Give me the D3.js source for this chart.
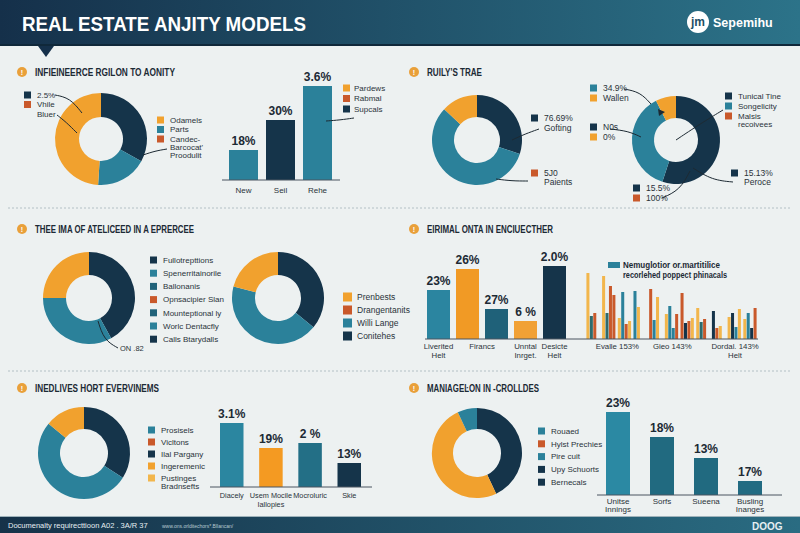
<!DOCTYPE html>
<html>
<head>
<meta charset="utf-8">
<script src="https://cdn.jsdelivr.net/npm/d3@7"></script>
<style>
body { margin: 0; background: #edf1f1; }
svg { display: block; font-family: "Liberation Sans", Arial, sans-serif; }
</style>
</head>
<body>
<div id="chart"></div>
<script>
var navy = "#15344a", teal = "#2b819a", dteal = "#21637a", orange = "#f1a12e",
    rust = "#c9592b", gold = "#f2b64c", ink = "#1c2a35";

// ---- data ----
var headerTitle = "REAL ESTATE ANJITY MODELS";
var logoText = "Sepemihu";
var panelTitles = ["INFIEINEERCE RGILON TO AONITY", "RUILY'S TRAE",
    "THEE IMA OF ATELICEED IN A EPRERCEE", "EIRIMAL ONTA IN ENCIUECTHER",
    "INEDLIVES HORT EVERVINEMS", "MANIAGEĿON IN -CROLLDES"];

// panel 1
var p1Donut = [33, 18, 49];
var p1DonutColors = [navy, teal, orange];
var p1LegendLeft = ["2.5%", "Vhile\nBluer"];
var p1LegendLeftColors = [navy, rust];
var p1LegendRight = ["Odamels", "Parts", "Candec-\nBarcocat'\nProodulit"];
var p1LegendRightColors = [orange, teal, rust];
var p1Bars = ["New", "Seil", "Rehe"];
var p1BarValues = [30, 60, 94];
var p1BarText = ["18%", "30%", "3.6%"];
var p1BarColors = [teal, navy, teal];
var p1BarLegend = ["Pardews", "Rabmal", "Supcals"];
var p1BarLegendColors = [orange, rust, navy];

// panel 2
var p2DonutA = [30, 57, 13];
var p2DonutAColors = [navy, teal, orange];
var p2LabelsA = [["76.69%\nGofting"], ["5J0\nPaients"]];
var p2LabelsAColors = [[navy], [rust]];
var p2DonutB = [55, 37.5, 7.5];
var p2DonutBColors = [navy, teal, orange];
var p2LabelsB = [["34.9%", "Wallen"], ["N0s", "0%"], ["15.5%", "100%"],
    ["Tunical Tine", "Songelicity", "Malsis\nrecoivees"], ["15.13%\nPeroce"]];
var p2LabelsBColors = [[teal, orange], [navy, orange], [navy, rust],
    [navy, teal, rust], [navy]];

// panel 3
var p3DonutA = [42, 33, 25];
var p3DonutB = [36, 43, 21];
var p3Colors = [navy, teal, orange];
var p3LegendA = ["Fullotrepttions", "Spenerritainorile", "Ballonanis", "Opnsacipier Slan",
    "Mounteptional ly", "Worlc Dentacfly", "Calls Btarydalls"];
var p3LegendAColors = [navy, teal, dteal, rust, dteal, teal, navy];
var p3Note = "ON .82";
var p3LegendB = ["Prenbests", "Drangentanits", "Willi Lange", "Conitehes"];
var p3LegendBColors = [orange, rust, teal, navy];

// panel 4
var p4Bars = ["b1", "b2", "b3", "b4", "b5"];
var p4BarValues = [49, 70, 30, 18, 73];
var p4BarText = ["23%", "26%", "27%", "6 %", "2.0%"];
var p4BarColors = ["#2b85a0", "#f19a25", "#1f6179", "#f1a135", navy];
var p4BarLabels = [["Liverited", "Helt"], ["Firancs"], ["Unntal", "Inrget."], ["Desicte", "Helt"]];
var p4BarLabelAt = [0, 1.5, 3, 4];
var p4Clusters = [
    [["Y", 66], ["D", 23], ["R", 26]],
    [["Y", 63], ["D", 26], ["R", 53], ["R", 44]],
    [["Y", 21], ["T", 47], ["R", 15], ["Y", 18]],
    [["T", 48], ["Y", 32]],
    [["R", 50], ["T", 19], ["Y", 42]],
    [["Y", 25], ["T", 33], ["T", 11], ["R", 25]],
    [["R", 46], ["N", 16], ["R", 18], ["Y", 21]],
    [["Y", 31], ["D", 17], ["R", 20]],
    [["N", 28], ["R", 11], ["Y", 13]],
    [["Y", 22], ["N", 26], ["T", 12], ["Y", 30]],
    [["Y", 20], ["T", 26], ["N", 11], ["R", 31]]
];
var p4SeriesColors = { Y: gold, T: teal, D: "#2e6a6c", R: rust, N: navy };
var p4Legend = ["Nemuglotior or.martitilice", "recorlehed poppect phinacals"];
var p4GroupLabels = [["Evalle 153%"], ["Gieo 143%"], ["Dordal. 143%", "Helt"]];
var p4GroupAt = [1.5, 5, 9];

// panel 5
var p5Donut = [34, 52, 14];
var p5Colors = [navy, teal, orange];
var p5Legend = ["Prosisels", "Vicltons", "Ilal Pargany", "Ingeremenic", "Pustinges\nBradnsefts"];
var p5LegendColors = [teal, rust, navy, orange, gold];
var p5Bars = ["Diacely", "Usem Mocile\nIallopies", "Mocroluric", "Skie"];
var p5BarValues = [64, 39, 44, 24];
var p5BarText = ["3.1%", "19%", "2 %", "13%"];
var p5BarColors = ["#2b86a0", "#f49a22", "#236f86", navy];

// panel 6
var p6Donut = [43, 50, 7];
var p6Colors = [navy, orange, teal];
var p6Legend = ["Rouaed", "Hylst Prechies", "Pire cuit", "Upy Schuorts", "Bernecals"];
var p6LegendColors = [teal, rust, teal, navy, navy];
var p6Bars = ["Unitse\nInnings", "Sorfs", "Sueena", "Busling\nInanges"];
var p6BarValues = [83, 58, 37, 14];
var p6BarText = ["23%", "18%", "13%", "17%"];
var p6BarColors = ["#2b89a3", "#216a80", "#216a80", "#226b82"];

var footerText = "Documenalty requirecttioon A02 . 3A/R 37";
var footerUrl = "www.ons.orlditechors*.Bllancan/";
var footerMark = "DOOG";

// ---- drawing ----
var W = 800, H = 533;
var svg = d3.select("#chart").append("svg").attr("width", W).attr("height", H);
var defs = svg.append("defs");

function gradient(id, c1, c2) {
    var g = defs.append("linearGradient").attr("id", id);
    g.append("stop").attr("offset", "0%").attr("stop-color", c1);
    g.append("stop").attr("offset", "100%").attr("stop-color", c2);
}
gradient("hdr", "#15304a", "#2c7389");
gradient("ftr", "#163249", "#2a6c82");

svg.append("rect").attr("width", W).attr("height", H).attr("fill", "#edf1f1");

// header
svg.append("rect").attr("width", W).attr("height", 45).attr("fill", "url(#hdr)");
svg.append("rect").attr("y", 44).attr("width", W).attr("height", 2).attr("fill", "#10283a");
svg.append("path").attr("d", "M38,46 L54,46 L46,57 Z").attr("fill", "#15304a");
svg.append("text").attr("x", 22).attr("y", 31).text(headerTitle)
    .attr("fill", "#fff").attr("font-size", 21).attr("font-weight", "bold")
    .attr("textLength", 284).attr("lengthAdjust", "spacingAndGlyphs");
svg.append("circle").attr("cx", 698).attr("cy", 22).attr("r", 11).attr("fill", "#fff");
svg.append("text").attr("x", 698).attr("y", 26).attr("text-anchor", "middle").text("jm")
    .attr("fill", "#1d4f66").attr("font-size", 12).attr("font-weight", "bold");
svg.append("text").attr("x", 713).attr("y", 27).text(logoText)
    .attr("fill", "#fff").attr("font-size", 12.5).attr("font-weight", "bold");

// dotted dividers
[208, 371].forEach(function(y) {
    svg.append("line").attr("x1", 8).attr("x2", 792).attr("y1", y).attr("y2", y)
        .attr("stroke", "#b3c0c5").attr("stroke-width", 1).attr("stroke-dasharray", "2,2");
});

// footer
svg.append("rect").attr("y", 517).attr("width", W).attr("height", 16).attr("fill", "url(#ftr)");
svg.append("rect").attr("y", 516).attr("width", W).attr("height", 1).attr("fill", "#9fb3bb");
svg.append("text").attr("x", 8).attr("y", 528).text(footerText)
    .attr("fill", "#e6eef2").attr("font-size", 7.5);
svg.append("text").attr("x", 162).attr("y", 528).text(footerUrl)
    .attr("fill", "#b8cad2").attr("font-size", 5);
svg.append("text").attr("x", 752).attr("y", 530).text(footerMark)
    .attr("fill", "#e6eef2").attr("font-size", 10).attr("font-weight", "bold");

// panel titles
var titlePos = [[22, 72, 140], [414, 72, 55], [22, 229, 159], [414, 229, 126], [22, 388, 124], [414, 388, 112]];
panelTitles.forEach(function(t, i) {
    var p = titlePos[i];
    svg.append("circle").attr("cx", p[0]).attr("cy", p[1]).attr("r", 5).attr("fill", "#e9a03a");
    svg.append("text").attr("x", p[0]).attr("y", p[1] + 2.5).attr("text-anchor", "middle")
        .text("!").attr("fill", "#fff").attr("font-size", 7).attr("font-weight", "bold");
    svg.append("text").attr("x", p[0] + 13).attr("y", p[1] + 4).text(t)
        .attr("fill", ink).attr("font-size", 10).attr("font-weight", "bold")
        .attr("textLength", p[2]).attr("lengthAdjust", "spacingAndGlyphs");
});

function donut(cx, cy, r0, r1, values, colors) {
    var pie = d3.pie().sort(null)(values);
    var arc = d3.arc().innerRadius(r0).outerRadius(r1);
    svg.append("g").attr("transform", "translate(" + cx + "," + cy + ")")
        .selectAll("path").data(pie).enter().append("path")
        .attr("d", arc)
        .attr("fill", function(d, i) { return colors[i]; });
}

// legend: labels may hold "\n" for extra lines
function legend(x, y, labels, colors, o) {
    o = o || {};
    var size = o.size || 7, step = o.step || 10, lh = o.lh || 9, fs = o.fs || 8, gap = o.gap || 6;
    var cy = y;
    labels.forEach(function(lab, i) {
        var lines = lab.split("\n");
        if (colors[i]) {
            svg.append("rect").attr("x", x).attr("y", cy - size / 2)
                .attr("width", size).attr("height", size).attr("fill", colors[i]);
        }
        lines.forEach(function(l, j) {
            svg.append("text").attr("x", x + size + gap).attr("y", cy + j * lh + fs * 0.35)
                .text(l).attr("fill", "#2a333a").attr("font-size", fs);
        });
        cy += step + (lines.length - 1) * lh;
    });
}

function leader(pts) {
    svg.append("path").attr("d", d3.line().curve(d3.curveBasis)(pts))
        .attr("fill", "none").attr("stroke", "#1d2a33").attr("stroke-width", 1);
}

// band with first bar starting at x0 and last bar ending at x1
function band(domain, x0, x1, bw) {
    var n = domain.length;
    var step = (x1 - x0 - bw) / (n - 1);
    var pi = (step - bw) / step;
    return d3.scaleBand().domain(domain).paddingInner(pi).paddingOuter(pi / 2)
        .range([x0 - pi / 2 * step, x1 + pi / 2 * step]);
}

function bars(names, values, text, colors, x, base, fs) {
    var y = d3.scaleLinear().domain([0, 100]).range([base, base - 100]);
    var g = svg.append("g");
    g.selectAll("rect").data(values).enter().append("rect")
        .attr("x", function(d, i) { return x(names[i]); })
        .attr("y", function(d) { return y(d); })
        .attr("width", x.bandwidth())
        .attr("height", function(d) { return base - y(d); })
        .attr("fill", function(d, i) { return colors[i]; });
    g.selectAll("text").data(values).enter().append("text")
        .attr("x", function(d, i) { return x(names[i]) + x.bandwidth() / 2; })
        .attr("y", function(d) { return y(d) - 5; })
        .attr("text-anchor", "middle").attr("font-size", fs || 12).attr("font-weight", "bold")
        .attr("fill", ink)
        .text(function(d, i) { return text[i]; });
    return y;
}

function labelAt(cx, y0, lines, lh, fs) {
    lines.forEach(function(l, j) {
        svg.append("text").attr("x", cx).attr("y", y0 + j * lh)
            .attr("text-anchor", "middle").attr("font-size", fs || 8).attr("fill", "#2a333a").text(l);
    });
}

function xLabels(names, labels, x, y0, lh, fs) {
    names.forEach(function(n, i) {
        labelAt(x(n) + x.bandwidth() / 2, y0, labels[i], lh, fs);
    });
}

function baseline(x1, x2, y) {
    svg.append("line").attr("x1", x1).attr("x2", x2).attr("y1", y).attr("y2", y)
        .attr("stroke", "#4a5560").attr("stroke-width", 1);
}

// ---- panel 1 ----
donut(101, 139, 22, 46, p1Donut, p1DonutColors);
legend(24, 95, p1LegendLeft, p1LegendLeftColors, { step: 9.5, lh: 10 });
leader([[55, 95], [70, 98], [82, 113]]);
leader([[57, 115], [66, 122], [77, 133]]);
legend(157, 120, p1LegendRight, p1LegendRightColors, { step: 9.5, lh: 8 });
leader([[143, 155], [155, 151], [167, 149]]);

var x1 = band(p1Bars, 229, 332, 29);
bars(p1Bars, p1BarValues, p1BarText, p1BarColors, x1, 180, 12);
baseline(222, 340, 180);
xLabels(p1Bars, p1Bars.map(function(d) { return [d]; }), x1, 193, 9);
legend(343, 88, p1BarLegend, p1BarLegendColors, { step: 10.5, gap: 4 });
leader([[326, 121], [340, 120], [354, 118]]);

// ---- panel 2 ----
donut(477, 140, 23, 45, p2DonutA, p2DonutAColors);
legend(531, 118, p2LabelsA[0], p2LabelsAColors[0], { lh: 10, fs: 8.5 });
legend(531, 173, p2LabelsA[1], p2LabelsAColors[1], { lh: 9, fs: 8.5 });
leader([[512, 140], [525, 134], [539, 129]]);
leader([[496, 179], [512, 181], [528, 181]]);

donut(676, 140, 22, 44, p2DonutB, p2DonutBColors);
legend(590, 88, p2LabelsB[0], p2LabelsBColors[0], { fs: 8.5 });
legend(590, 127, p2LabelsB[1], p2LabelsBColors[1], { fs: 8.5 });
legend(633, 188, p2LabelsB[2], p2LabelsBColors[2], { fs: 8.5 });
legend(725, 96, p2LabelsB[3], p2LabelsBColors[3], { fs: 8, lh: 8.5 });
legend(731, 173, p2LabelsB[4], p2LabelsBColors[4], { fs: 8.5, lh: 9 });
leader([[624, 89], [640, 92], [651, 104]]);
leader([[610, 129], [628, 131], [641, 137]]);
leader([[662, 198], [680, 190], [690, 171]]);
leader([[676, 140], [700, 124], [723, 110]]);
leader([[693, 168], [712, 180], [733, 182]]);
svg.append("path").attr("d", "M658,109 L665,112 L659,116 Z").attr("fill", "#1d2a33");

// ---- panel 3 ----
donut(89, 298, 23, 46, p3DonutA, p3Colors);
legend(150, 260, p3LegendA, p3LegendAColors, { step: 13.2 });
leader([[98, 321], [104, 340], [118, 348]]);
svg.append("text").attr("x", 120).attr("y", 351).text(p3Note)
    .attr("font-size", 7.5).attr("fill", "#2a333a");
donut(278, 298, 23, 46, p3DonutB, p3Colors);
legend(343, 297, p3LegendB, p3LegendBColors, { size: 9, step: 13, fs: 8.5, gap: 5 });

// ---- panel 4 ----
var x4 = band(p4Bars, 427, 566, 23);
bars(p4Bars, p4BarValues, p4BarText, p4BarColors, x4, 339, 12);
var y4 = d3.scaleLinear().domain([0, 100]).range([339, 239]);
var xc = d3.scaleBand().domain(d3.range(p4Clusters.length)).range([586, 757]).paddingInner(0.1);
var xi = d3.scaleBand().domain(d3.range(4)).range([0, xc.bandwidth()]).padding(0.12);
p4Clusters.forEach(function(cl, ci) {
    svg.append("g").selectAll("rect").data(cl).enter().append("rect")
        .attr("x", function(d, j) { return xc(ci) + xi(j); })
        .attr("y", function(d) { return y4(d[1]); })
        .attr("width", xi.bandwidth())
        .attr("height", function(d) { return 339 - y4(d[1]); })
        .attr("fill", function(d) { return p4SeriesColors[d[0]]; });
});
baseline(425, 758, 339);
p4BarLabels.forEach(function(lines, i) {
    var cx = x4(p4Bars[0]) + x4.bandwidth() / 2 + p4BarLabelAt[i] * x4.step();
    labelAt(cx, 349, lines, 9, 7.8);
});
p4GroupLabels.forEach(function(lines, i) {
    var cx = xc(0) + (p4GroupAt[i] + 0.5) * xc.step();
    labelAt(cx, 349, lines, 9, 7.8);
});
svg.append("rect").attr("x", 608).attr("y", 262).attr("width", 12).attr("height", 6).attr("fill", teal);
p4Legend.forEach(function(l, j) {
    svg.append("text").attr("x", 623).attr("y", 268 + j * 10).text(l)
        .attr("font-size", 8.5).attr("fill", ink).attr("font-weight", "bold")
        .attr("textLength", j ? 104 : 97).attr("lengthAdjust", "spacingAndGlyphs");
});

// ---- panel 5 ----
donut(84, 453, 24, 46, p5Donut, p5Colors);
legend(148, 430, p5Legend, p5LegendColors, { step: 12, lh: 8 });
var x5 = band(p5Bars, 220, 361, 23.5);
bars(p5Bars, p5BarValues, p5BarText, p5BarColors, x5, 487, 12);
baseline(210, 372, 487);
xLabels(p5Bars, p5Bars.map(function(d) { return d.split("\n"); }), x5, 498, 9, 7.3);

// ---- panel 6 ----
donut(477, 453, 24, 45, p6Donut, p6Colors);
legend(538, 431, p6Legend, p6LegendColors, { step: 12.8, fs: 8 });
var x6 = band(p6Bars, 606, 762, 24);
bars(p6Bars, p6BarValues, p6BarText, p6BarColors, x6, 495, 12);
baseline(597, 782, 495);
xLabels(p6Bars, p6Bars.map(function(d) { return d.split("\n"); }), x6, 504, 8);
</script>
</body>
</html>
